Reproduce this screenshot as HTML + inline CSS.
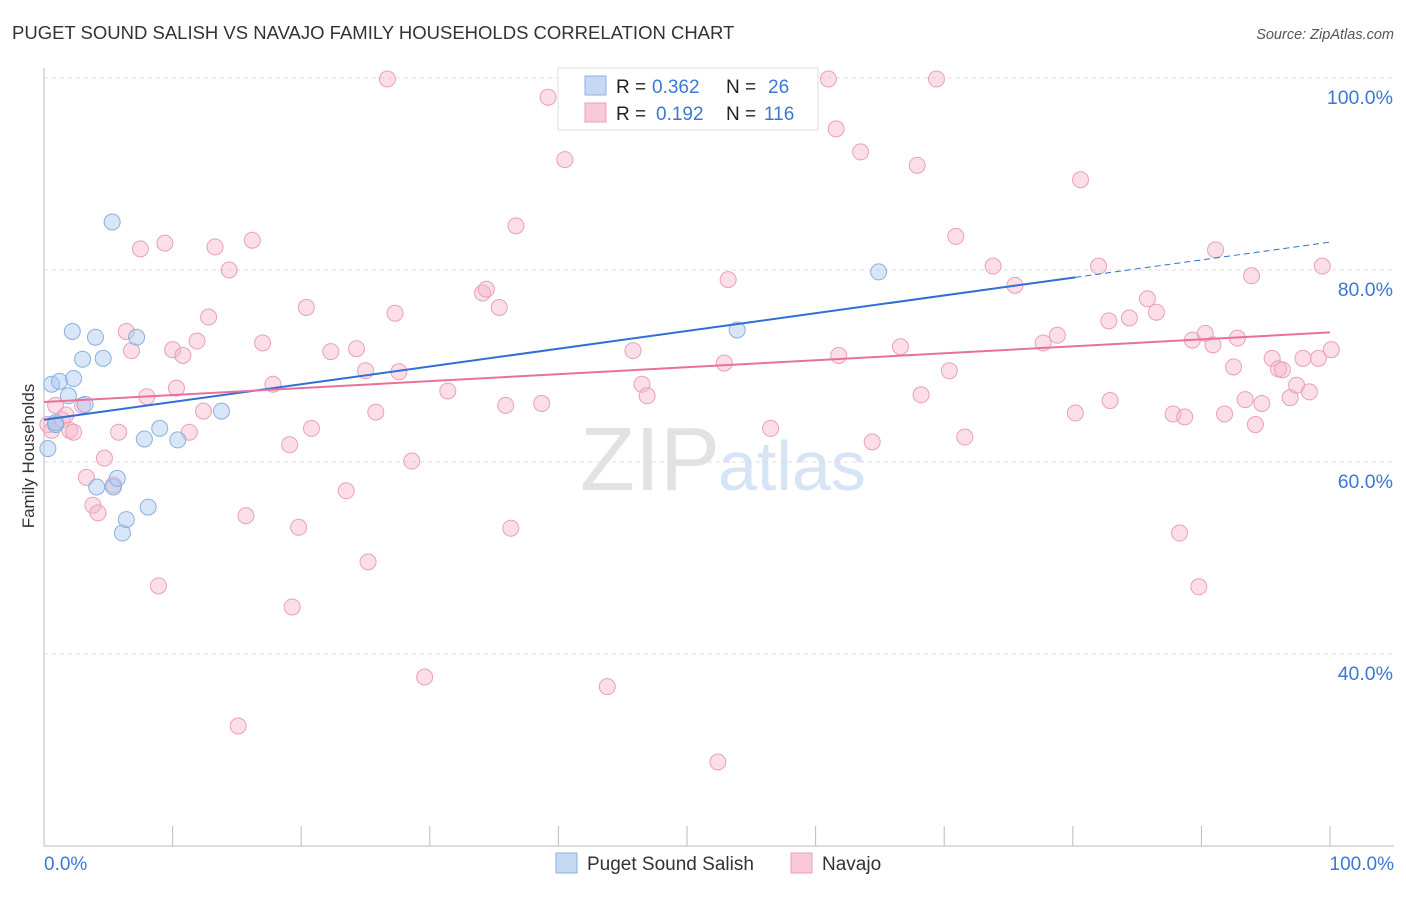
<!DOCTYPE html>
<html><head><meta charset="utf-8"><style>
body{margin:0;background:#fff;font-family:"Liberation Sans",sans-serif}
svg text{font-family:"Liberation Sans",sans-serif}
</style></head><body>
<svg id="chart" width="1406" height="892" xmlns="http://www.w3.org/2000/svg">
<text x="12" y="39" font-size="18.5" fill="#333">PUGET SOUND SALISH VS NAVAJO FAMILY HOUSEHOLDS CORRELATION CHART</text>
<text x="1394" y="39" font-size="14.5" fill="#555" text-anchor="end" font-style="italic">Source: ZipAtlas.com</text>
<text x="720" y="490" font-size="90" fill="#e2e2e2" text-anchor="end" font-family="Liberation Serif">ZIP</text>
<text x="718" y="490" font-size="70" fill="#d6e4f5">atlas</text>
<g id="grid"></g><g id="marks"></g>
<text transform="translate(34,456) rotate(-90)" font-size="17" fill="#333" text-anchor="middle">Family Households</text>
<g>
<rect x="558" y="68" width="260" height="62" fill="#fff" stroke="#ddd"/>
<rect x="585" y="76" width="21" height="19" fill="#c5d9f5" stroke="#8ab0e0"/>
<rect x="585" y="103" width="21" height="19" fill="#f9c9d8" stroke="#eaa0b8"/>
<text x="616" y="93" font-size="19" fill="#222">R =</text>
<text x="652" y="93" font-size="19" fill="#3a78d4">0.362</text>
<text x="726" y="93" font-size="19" fill="#222">N =</text>
<text x="768" y="93" font-size="19" fill="#3a78d4">26</text>
<text x="616" y="120" font-size="19" fill="#222">R =</text>
<text x="656" y="120" font-size="19" fill="#3a78d4">0.192</text>
<text x="726" y="120" font-size="19" fill="#222">N =</text>
<text x="764" y="120" font-size="19" fill="#3a78d4">116</text>
</g>
<g>
<rect x="556" y="853" width="21" height="20" fill="#c5d9f5" stroke="#8ab0e0"/>
<text x="587" y="870" font-size="19" fill="#333">Puget Sound Salish</text>
<rect x="791" y="853" width="21" height="20" fill="#f9c9d8" stroke="#eaa0b8"/>
<text x="822" y="870" font-size="19" fill="#333">Navajo</text>
</g>
</svg>
<script>
const yTicks=[100,80,60,40];
const xTickLabels=["0.0%","100.0%"];
const blueX=[0.3,0.6,0.9,1.2,1.9,2.2,2.3,3.0,3.2,4.0,4.1,4.6,5.3,5.4,5.7,6.1,6.4,7.2,7.8,8.1,9.0,10.4,13.8,53.9,64.9,0.9];
const blueY=[61.4,68.1,63.9,68.4,66.9,73.6,68.7,70.7,66.0,73.0,57.4,70.8,85.0,57.4,58.3,52.6,54.0,73.0,62.4,55.3,63.5,62.3,65.3,73.75,79.8,64.1];
const pinkX=[0.3,0.6,0.9,1.4,1.7,2.0,2.3,3.0,3.3,3.8,4.2,4.7,5.4,5.8,6.4,6.8,7.5,8.0,8.9,9.4,10.0,10.3,10.8,11.3,11.9,12.4,12.8,13.3,14.4,15.1,15.7,16.2,17.0,17.8,19.1,19.3,19.8,20.4,20.8,22.3,23.5,24.3,25.0,25.2,25.8,26.7,27.3,27.6,28.6,29.6,31.4,34.1,34.4,35.4,35.9,36.3,36.7,38.7,39.2,40.5,40.7,43.8,45.8,46.5,46.9,52.4,52.9,53.2,56.5,61.0,61.6,61.8,63.5,64.4,66.6,67.9,68.2,69.4,70.4,70.9,71.6,73.8,75.5,77.7,78.8,80.2,80.6,82.0,82.8,82.9,84.4,85.8,86.5,87.8,88.3,88.7,89.3,89.8,90.3,90.9,91.1,91.8,92.5,92.8,93.4,93.9,94.2,94.7,95.5,96.0,96.3,96.9,97.4,97.9,98.4,99.1,99.4,100.1];
const pinkY=[63.9,63.3,65.9,64.4,64.9,63.3,63.1,65.9,58.4,55.5,54.7,60.4,57.6,63.1,73.6,71.6,82.2,66.8,47.1,82.8,71.7,67.7,71.1,63.1,72.6,65.3,75.1,82.4,80.0,32.5,54.4,83.1,72.4,68.1,61.8,44.9,53.2,76.1,63.5,71.5,57.0,71.8,69.5,49.6,65.2,99.9,75.5,69.4,60.1,37.6,67.4,77.6,78.0,76.1,65.9,53.1,84.6,66.1,98.0,91.5,99.9,36.6,71.6,68.1,66.9,28.75,70.3,79.0,63.5,99.9,94.7,71.1,92.3,62.1,72.0,90.9,67.0,99.9,69.5,83.5,62.6,80.4,78.4,72.4,73.2,65.1,89.4,80.4,74.7,66.4,75.0,77.0,75.6,65.0,52.6,64.7,72.7,47.0,73.4,72.2,82.1,65.0,69.9,72.9,66.5,79.4,63.9,66.1,70.8,69.7,69.6,66.7,68.0,70.8,67.3,70.8,80.4,71.7];
const blueTrend=[64.4,82.9], blueSolidEnd=80.2;
const pinkTrend=[66.25,73.5];
const NS="http://www.w3.org/2000/svg";
const sx=v=>44+v*12.86, sy=v=>846-(v-20)*9.6;
function mk(tag,attrs,parent){const e=document.createElementNS(NS,tag);for(const k in attrs)e.setAttribute(k,attrs[k]);parent.appendChild(e);return e;}
const grid=document.getElementById('grid'), marks=document.getElementById('marks');
yTicks.forEach(t=>{
 const l=mk('line',{x1:44,x2:1394,y1:sy(t),y2:sy(t),stroke:'#ddd','stroke-dasharray':'4,4'},grid);
 
 
 const tx=mk('text',{x:1393,y:sy(t)+26,'font-size':19.5,fill:'#3a78d4','text-anchor':'end'},grid);
 tx.textContent=t.toFixed(1)+'%';
 
 
});
const ax=mk('line',{x1:44,x2:1394,y1:846,y2:846,stroke:'#bbb'},grid);


const ay=mk('line',{x1:44,x2:44,y1:68,y2:846,stroke:'#bbb'},grid);


for(let i=0;i<=10;i++){const t=mk('line',{x1:sx(i*10),x2:sx(i*10),y1:826,y2:846,stroke:'#bbb'},grid);
 
 }
[[0,'start',44],[100,'end',1394]].forEach((d,i)=>{const t=mk('text',{x:d[2],y:870,'font-size':19,fill:'#3a78d4','text-anchor':d[1]},grid);t.textContent=xTickLabels[i];
 
 });
function pts(X,Y,fill,stroke,name){X.forEach((x,i)=>{const c=mk('circle',{cx:sx(x),cy:sy(Y[i]),r:8,fill:fill,'fill-opacity':0.45,stroke:stroke,'stroke-width':1},marks);
 
 });}
pts(pinkX,pinkY,'#f7b6ca','#eaa0b8','navajo-point');
pts(blueX,blueY,'#a9c8f0','#8ab0e0','puget-sound-salish-point');
const slope=(blueTrend[1]-blueTrend[0])/100, bEnd=blueTrend[0]+slope*blueSolidEnd;
const b1=mk('line',{x1:sx(0),y1:sy(blueTrend[0]),x2:sx(blueSolidEnd),y2:sy(bEnd),stroke:'#2f6fd6','stroke-width':2},marks);


const b2=mk('line',{x1:sx(blueSolidEnd),y1:sy(bEnd),x2:sx(100),y2:sy(blueTrend[1]),stroke:'#2f6fd6','stroke-width':1,'stroke-dasharray':'6,4'},marks);


const p1=mk('line',{x1:sx(0),y1:sy(pinkTrend[0]),x2:sx(100),y2:sy(pinkTrend[1]),stroke:'#e8709a','stroke-width':2},marks);


</script>
</body></html>
